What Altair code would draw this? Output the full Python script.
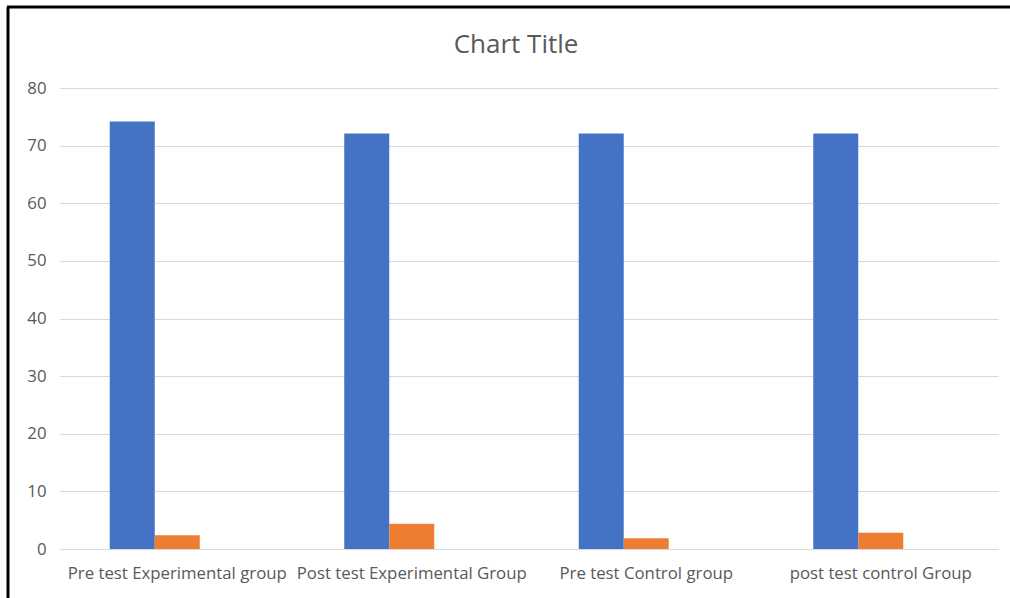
import altair as alt
import pandas as pd

categories = ["Pre test Experimental group", "Post test Experimental Group",
              "Pre test Control group", "post test control Group"]
series_names = ["Series1", "Series2", "Series3"]
series1 = [74.2, 72.1, 72.1, 72.1]
series2 = [2.4, 4.4, 1.85, 2.8]
series3 = [0, 0, 0, 0]
colors = ["#4472C4", "#ED7D31", "#A5A5A5"]
chart_title = "Chart Title"

rows = []
for s, vals in zip(series_names, [series1, series2, series3]):
    for c, v in zip(categories, vals):
        rows.append({"category": c, "series": s, "value": v})
df = pd.DataFrame(rows)

FONT = "Open Sans"
W, H = 938, 461

bars = alt.Chart(df).mark_bar().encode(
    x=alt.X("category:N", sort=categories, title=None,
            scale=alt.Scale(paddingInner=0.4243, paddingOuter=0.21215),
            axis=alt.Axis(labelAngle=0, labelColor="#595959", labelFontSize=16.8,
                          labelFont=FONT, labelPadding=16, domainColor="#d9d9d9",
                          labelLimit=0, labelOverlap=False,
                          ticks=False, grid=False)),
    xOffset=alt.XOffset("series:N", sort=series_names),
    y=alt.Y("value:Q", title=None,
            scale=alt.Scale(domain=[0, 80], nice=False),
            axis=alt.Axis(values=list(range(0, 81, 10)), labelColor="#595959",
                          labelFontSize=16.8, labelFont=FONT, labelPadding=14,
                          domain=False, ticks=False, gridColor="#d9d9d9")),
    color=alt.Color("series:N", sort=series_names,
                    scale=alt.Scale(domain=series_names, range=colors), legend=None),
)

title = alt.Chart(pd.DataFrame({"t": [chart_title]})).mark_text(
    font=FONT, fontSize=26, color="#595959", align="center", baseline="middle"
).encode(text="t:N", x=alt.value(W / 2 - 13), y=alt.value(-43))

border_left = alt.Chart(pd.DataFrame({"a": [0]})).mark_rule(color="black", strokeWidth=3).encode(
    x=alt.value(-52), y=alt.value(-81), y2=alt.value(H + 49))
border_top = alt.Chart(pd.DataFrame({"a": [0]})).mark_rule(color="black", strokeWidth=3).encode(
    x=alt.value(-53), x2=alt.value(W + 12), y=alt.value(-81))

chart = alt.layer(bars, title, border_left, border_top).properties(
    width=W, height=H,
    autosize=alt.AutoSizeParams(type="none"),
    padding={"left": 60, "top": 88, "right": 12, "bottom": 49},
).configure(background="white").configure_view(strokeWidth=0, stroke="transparent")

chart.save("out.html", embed_options={"renderer": "svg", "actions": False})
